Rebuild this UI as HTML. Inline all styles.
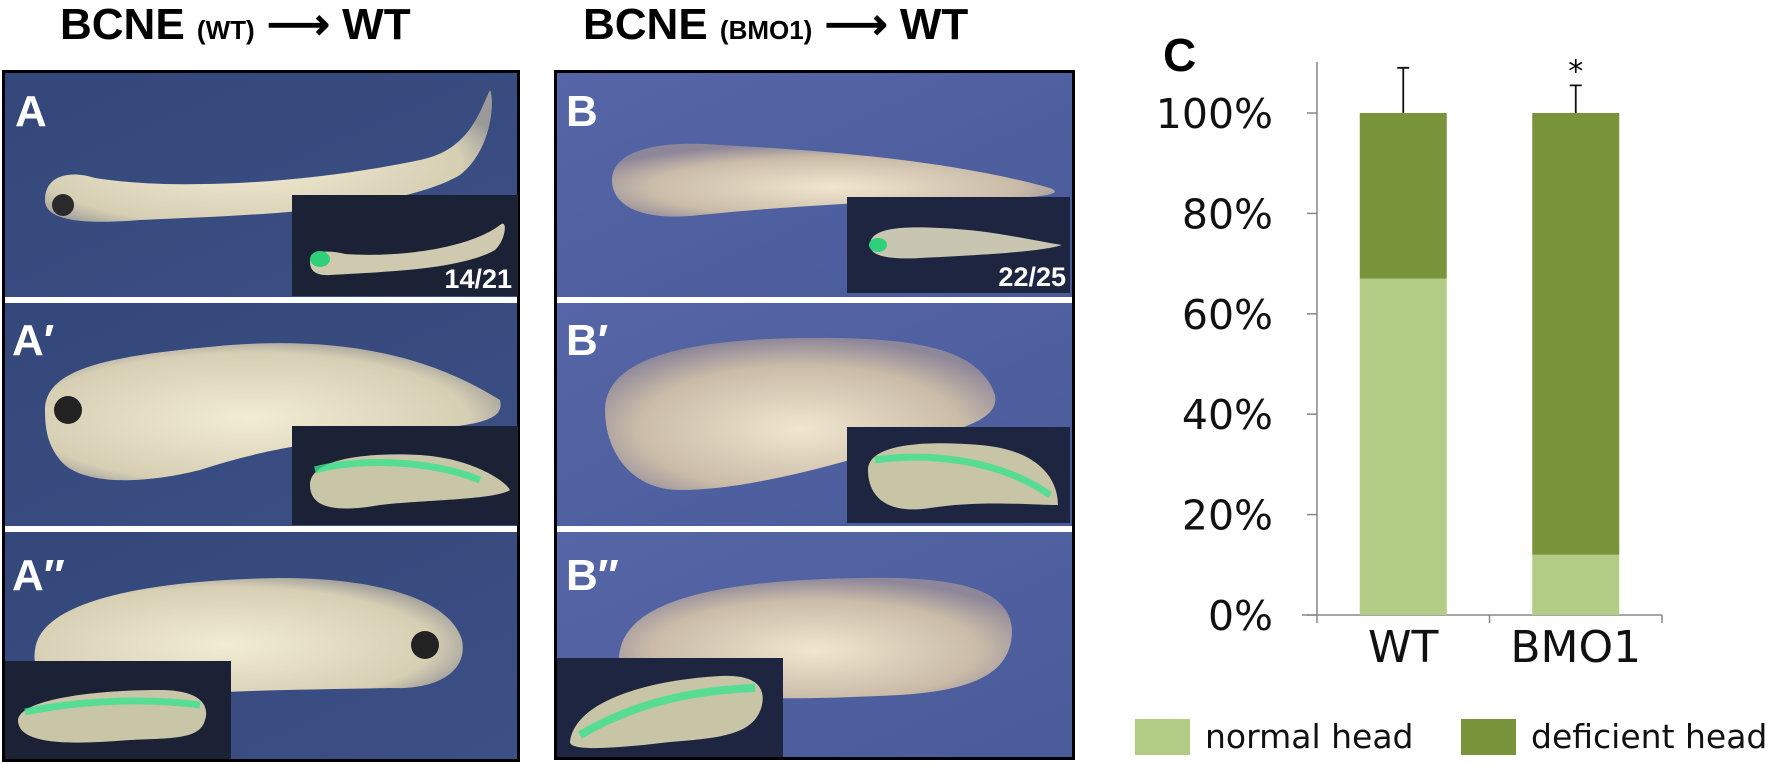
<!DOCTYPE html>
<html><head><meta charset="utf-8"><style>
html,body{margin:0;padding:0;background:#fff;}
body{width:1775px;height:764px;position:relative;overflow:hidden;font-family:"Liberation Sans",sans-serif;}
svg{position:absolute;left:0;top:0;}
.t{font-family:"Liberation Sans",sans-serif;}
</style></head><body>
<svg width="1775" height="764" viewBox="0 0 1775 764">
<defs>
<linearGradient id="bgA" x1="0" y1="0" x2="1" y2="1"><stop offset="0" stop-color="#34477a"/><stop offset="1" stop-color="#3d5086"/></linearGradient>
<linearGradient id="bgB" x1="0" y1="0" x2="1" y2="1"><stop offset="0" stop-color="#5565a6"/><stop offset="1" stop-color="#4a5b9a"/></linearGradient>
<radialGradient id="body" cx="0.45" cy="0.55" r="0.6"><stop offset="0" stop-color="#f2ecd4"/><stop offset="0.8" stop-color="#d6cfb4"/><stop offset="1" stop-color="#9c9a98"/></radialGradient>
<radialGradient id="bodyB" cx="0.5" cy="0.6" r="0.6"><stop offset="0" stop-color="#f0e6cf"/><stop offset="0.7" stop-color="#c9bba8"/><stop offset="1" stop-color="#8e8799"/></radialGradient>
</defs>

<!-- titles -->
<text class="t" x="60" y="39" font-size="44" font-weight="bold">BCNE <tspan font-size="26">(WT)</tspan> ⟶ WT</text>
<text class="t" x="583" y="39" font-size="44" font-weight="bold">BCNE <tspan font-size="26">(BMO1)</tspan> ⟶ WT</text>

<!-- Panel A -->
<g>
<rect x="2" y="70" width="518" height="692" fill="#000"/>
<rect x="5" y="73" width="512" height="224" fill="url(#bgA)"/>
<rect x="5" y="303" width="512" height="223" fill="url(#bgA)"/>
<rect x="5" y="532" width="512" height="227" fill="url(#bgA)"/>
<rect x="5" y="297" width="512" height="6" fill="#fff"/>
<rect x="5" y="526" width="512" height="6" fill="#fff"/>
<!-- A tadpole -->
<path d="M45,200 C45,175 70,170 95,178 C170,190 300,185 420,160 C470,150 480,110 490,90 C495,100 492,150 460,175 C400,210 260,215 140,220 C80,225 45,220 45,200Z" fill="url(#body)"/>
<circle cx="63" cy="205" r="11" fill="#2a2a2a"/>
<rect x="292" y="195" width="226" height="101" fill="#1b2236"/>
<path d="M310,262 C310,250 330,250 345,254 C400,258 470,248 500,225 C508,218 506,240 495,250 C460,270 380,272 330,275 C315,276 310,270 310,262Z" fill="#cfc9b0"/>
<ellipse cx="320" cy="259" rx="10" ry="8" fill="#2fd07a"/>
<text class="t" x="512" y="288" text-anchor="end" font-size="27" font-weight="bold" fill="#fff">14/21</text>
<!-- A' -->
<path d="M45,410 C45,365 120,355 230,345 C330,338 420,350 500,400 C505,420 480,425 420,430 C320,440 260,450 200,470 C140,485 80,485 60,460 C48,445 45,430 45,410Z" fill="url(#body)"/>
<circle cx="68" cy="410" r="14" fill="#222"/>
<rect x="292" y="426" width="226" height="99" fill="#1b2236"/>
<path d="M310,485 C310,460 360,452 420,455 C470,458 505,480 510,490 C495,500 420,500 380,505 C340,512 310,510 310,485Z" fill="#c9c6a8"/>
<path d="M315,470 C360,458 430,460 480,480" stroke="#3ae28e" stroke-width="7" fill="none" opacity="0.8"/>
<!-- A'' -->
<path d="M35,650 C40,600 150,580 280,578 C380,578 450,600 462,640 C468,670 440,690 390,688 C300,690 200,690 120,700 C60,700 30,680 35,650Z" fill="url(#body)"/>
<circle cx="425" cy="645" r="14" fill="#222"/>
<rect x="5" y="661" width="226" height="98" fill="#1b2236"/>
<path d="M18,720 C20,700 90,690 160,690 C200,690 210,705 205,720 C200,740 170,738 130,740 C70,745 18,745 18,720Z" fill="#c9c6a8"/>
<path d="M25,712 C80,700 150,698 200,705" stroke="#3ae28e" stroke-width="7" fill="none" opacity="0.8"/>
<text class="t" x="15" y="126" font-size="44" font-weight="bold" fill="#fff">A</text>
<text class="t" x="12" y="355" font-size="44" font-weight="bold" fill="#fff">A′</text>
<text class="t" x="12" y="590" font-size="44" font-weight="bold" fill="#fff">A″</text>
</g>

<!-- Panel B -->
<g>
<rect x="554" y="70" width="521" height="690" fill="#000"/>
<rect x="557" y="73" width="515" height="224" fill="url(#bgB)"/>
<rect x="557" y="303" width="515" height="223" fill="url(#bgB)"/>
<rect x="557" y="532" width="515" height="225" fill="url(#bgB)"/>
<rect x="557" y="297" width="515" height="6" fill="#fff"/>
<rect x="557" y="526" width="515" height="6" fill="#fff"/>
<path d="M612,180 C612,150 660,140 720,145 C820,150 950,160 1050,188 C1060,192 1055,195 1030,197 C900,200 800,205 700,215 C640,222 612,205 612,180Z" fill="url(#bodyB)"/>
<rect x="847" y="197" width="223" height="96" fill="#1e2540"/>
<path d="M870,245 C870,228 900,226 940,228 C990,230 1030,240 1062,245 C1040,252 980,255 920,258 C885,260 870,255 870,245Z" fill="#c8c5b0"/>
<ellipse cx="878" cy="245" rx="9" ry="7" fill="#2fd07a"/>
<text class="t" x="1066" y="286" text-anchor="end" font-size="27" font-weight="bold" fill="#fff">22/25</text>
<path d="M605,410 C605,360 680,340 800,338 C920,336 980,350 995,395 C1000,420 960,430 900,445 C820,470 740,490 680,490 C630,490 605,450 605,410Z" fill="url(#bodyB)"/>
<rect x="847" y="427" width="223" height="96" fill="#1e2540"/>
<path d="M868,470 C868,445 920,440 980,445 C1040,450 1058,480 1058,505 C1030,505 980,500 930,508 C885,515 868,495 868,470Z" fill="#c8c5a6"/>
<path d="M875,460 C930,452 1000,460 1050,495" stroke="#3ae28e" stroke-width="7" fill="none" opacity="0.8"/>
<path d="M620,650 C630,600 720,580 860,578 C960,576 1010,590 1012,630 C1012,670 980,690 900,695 C800,700 720,700 660,690 C625,680 615,670 620,650Z" fill="url(#bodyB)"/>
<rect x="557" y="658" width="226" height="99" fill="#1e2540"/>
<path d="M570,742 C575,700 650,680 720,676 C760,674 765,690 762,705 C755,735 720,738 670,742 C620,748 570,752 570,742Z" fill="#c8c5a6"/>
<path d="M580,735 C640,700 700,690 755,688" stroke="#3ae28e" stroke-width="8" fill="none" opacity="0.8"/>
<text class="t" x="566" y="126" font-size="44" font-weight="bold" fill="#fff">B</text>
<text class="t" x="566" y="355" font-size="44" font-weight="bold" fill="#fff">B′</text>
<text class="t" x="566" y="590" font-size="44" font-weight="bold" fill="#fff">B″</text>
</g>

<g id="chart"></g>
</svg>
<script>
const categories = ["WT", "BMO1"];
const normalHead = [67, 12];
const deficientHead = [33, 88];
const errorUp = [9, 5.5];
const significance = ["", "*"];
const yTicks = [0, 20, 40, 60, 80, 100];

const NS = "http://www.w3.org/2000/svg";
const g = document.getElementById("chart");
const axX = 1317, x0 = 1302, x1 = 1662, yTop = 113, yBot = 615;
const y = v => yBot - (v / 100) * (yBot - yTop);
const band = (x1 - axX) / categories.length;
const bx = i => axX + band * i + band / 2;
const barW = 87;
function mk(tag, attrs) { const e = document.createElementNS(NS, tag); for (const k in attrs) e.setAttribute(k, attrs[k]); g.appendChild(e); return e; }

const title = mk("text", {x: 1163, y: 71, "font-size": 46, "font-weight": "bold", "font-family": "Liberation Sans, sans-serif"});
title.textContent = "C";



const yl = mk("line", {x1: axX, y1: 62, x2: axX, y2: yBot, stroke: "#888", "stroke-width": 1.5});


const xl = mk("line", {x1: x0, y1: yBot, x2: x1, y2: yBot, stroke: "#888", "stroke-width": 1.5});


for (let i = 0; i <= categories.length; i++) {
  const t = mk("line", {x1: axX + band * i, y1: yBot, x2: axX + band * i, y2: yBot + 8, stroke: "#888", "stroke-width": 1.5});
  
  
}
yTicks.forEach(v => {
  const t = mk("line", {x1: axX - 10, y1: y(v), x2: axX, y2: y(v), stroke: "#888", "stroke-width": 1.5});
  
  
  const l = mk("text", {x: 1273, y: y(v) + 15, "text-anchor": "end", "font-size": 41, "font-family": "DejaVu Sans, sans-serif", fill: "#111"});
  l.textContent = v + "%";
  
  
});
categories.forEach((c, i) => {
  const cx = bx(i);
  const n = mk("rect", {x: cx - barW / 2, y: y(normalHead[i]), width: barW, height: yBot - y(normalHead[i]), fill: "#b3cc85"});
  
  
  const top = normalHead[i] + deficientHead[i];
  const d = mk("rect", {x: cx - barW / 2, y: y(top), width: barW, height: y(normalHead[i]) - y(top), fill: "#7a943c"});
  
  
  const e = mk("path", {d: `M${cx},${y(top)} V${y(top + errorUp[i])} M${cx - 6},${y(top + errorUp[i])} H${cx + 6}`, stroke: "#111", "stroke-width": 1.8, fill: "none"});
  
  
  if (significance[i]) {
    const s = mk("text", {x: cx, y: y(top + errorUp[i]) - 4, "text-anchor": "middle", "font-size": 30, "font-family": "DejaVu Sans, sans-serif"});
    s.textContent = significance[i];
    
    
  }
  const l = mk("text", {x: cx, y: 662, "text-anchor": "middle", "font-size": 44, "font-family": "DejaVu Sans, sans-serif", fill: "#111"});
  l.textContent = c;
  
  
});
const legend = [["normal head", "#b3cc85", 1135], ["deficient head", "#7a943c", 1461]];
legend.forEach(([name, col, lx]) => {
  const r = mk("rect", {x: lx, y: 719, width: 55, height: 36, fill: col});
  
  
  const t = mk("text", {x: lx + 70, y: 748, "font-size": 33, "font-family": "DejaVu Sans, sans-serif", fill: "#111"});
  t.textContent = name;
  
  
});
</script>
</body></html>
